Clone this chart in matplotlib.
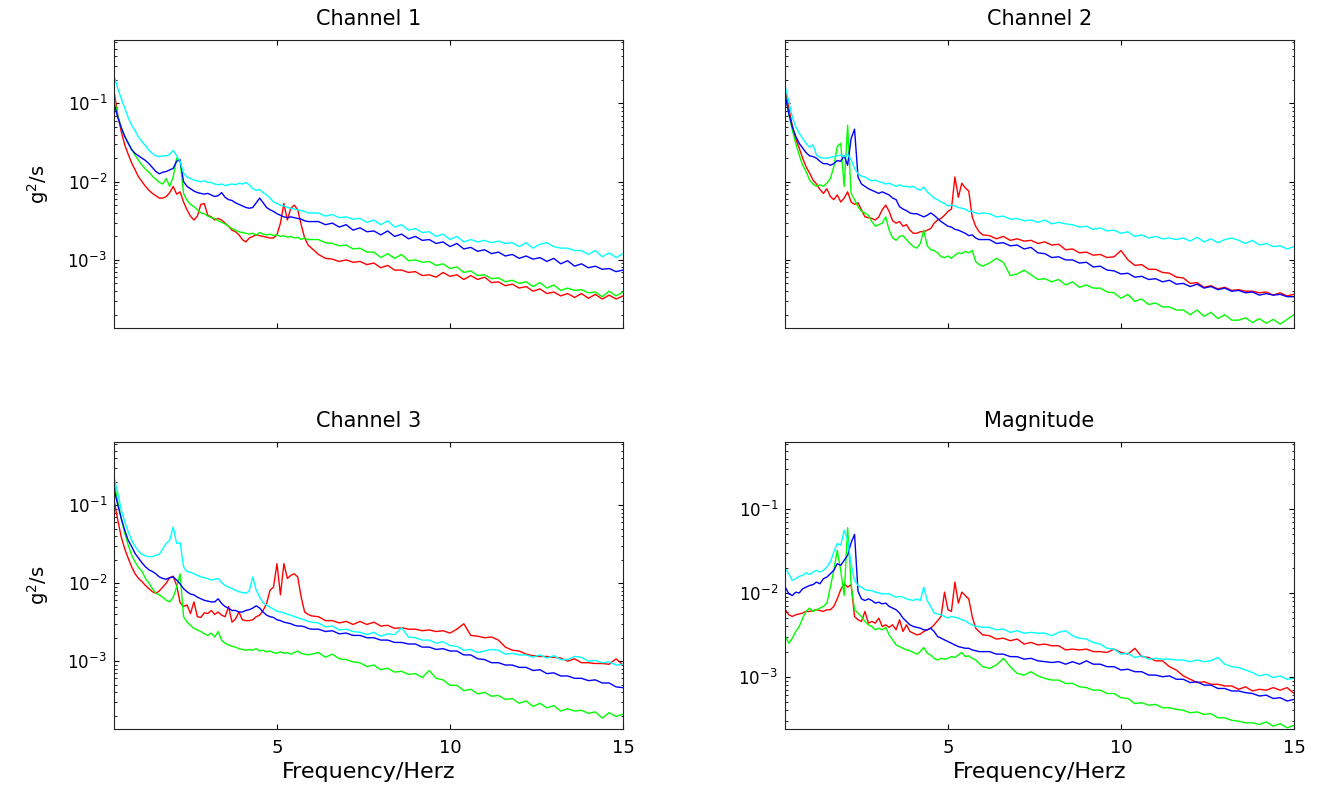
import numpy as np
import matplotlib
matplotlib.use("Agg")
import matplotlib.pyplot as plt
from matplotlib.ticker import LogLocator, NullFormatter, FixedLocator

# Frequency bins (Hz): 0.1 Hz steps up to 6 Hz, 0.2 Hz steps above
freq_hz = np.concatenate([np.round(np.arange(0.3, 6.001, 0.1), 2),
                          np.round(np.arange(6.2, 15.001, 0.2), 2)])

# Power spectral densities, stored as log10(g^2/s)
ch1_red = [-0.87, -1.15, -1.36, -1.53, -1.65, -1.76, -1.85, -1.94, -2.00, -2.06,
           -2.11, -2.15, -2.18, -2.21, -2.21, -2.19, -2.14, -2.06, -2.16, -2.13,
           -2.26, -2.36, -2.44, -2.49, -2.44, -2.29, -2.28, -2.43, -2.45, -2.49,
           -2.47, -2.49, -2.53, -2.57, -2.62, -2.64, -2.68, -2.74, -2.77, -2.72,
           -2.70, -2.68, -2.69, -2.70, -2.71, -2.72, -2.72, -2.68, -2.53, -2.28,
           -2.49, -2.34, -2.30, -2.36, -2.55, -2.72, -2.81, -2.85,
           -2.93, -2.98, -2.99, -3.02, -3.00, -3.03, -3.02, -3.06, -3.04, -3.10,
           -3.07, -3.13, -3.13, -3.16, -3.15, -3.20, -3.19, -3.22, -3.16, -3.21,
           -3.19, -3.25, -3.20, -3.25, -3.22, -3.29, -3.28, -3.33, -3.31, -3.36,
           -3.34, -3.40, -3.37, -3.43, -3.41, -3.46, -3.43, -3.48, -3.43, -3.49,
           -3.44, -3.50, -3.45, -3.50, -3.46]
ch1_green = [-0.95, -1.16, -1.31, -1.42, -1.50, -1.59, -1.66, -1.73, -1.79, -1.84,
             -1.88, -1.93, -1.97, -2.01, -2.03, -1.96, -2.06, -1.94, -1.70, -1.74,
             -2.15, -2.24, -2.29, -2.32, -2.36, -2.40, -2.41, -2.44, -2.46, -2.47,
             -2.50, -2.52, -2.54, -2.57, -2.60, -2.62, -2.64, -2.65, -2.66, -2.67,
             -2.66, -2.68, -2.65, -2.67, -2.68, -2.67, -2.69, -2.68, -2.70, -2.69,
             -2.71, -2.70, -2.72, -2.71, -2.74, -2.72, -2.74, -2.74,
             -2.74, -2.78, -2.79, -2.82, -2.81, -2.86, -2.85, -2.90, -2.90, -2.97,
             -2.92, -2.98, -2.93, -3.01, -3.00, -3.03, -3.02, -3.07, -3.05, -3.11,
             -3.09, -3.16, -3.14, -3.20, -3.19, -3.24, -3.23, -3.28, -3.26, -3.30,
             -3.28, -3.34, -3.29, -3.36, -3.32, -3.39, -3.36, -3.39, -3.38, -3.42,
             -3.41, -3.47, -3.40, -3.46, -3.41]
ch1_blue = [-1.02, -1.18, -1.31, -1.42, -1.51, -1.59, -1.64, -1.67, -1.70, -1.73,
            -1.77, -1.82, -1.87, -1.90, -1.88, -1.87, -1.85, -1.83, -1.74, -1.72,
            -2.00, -2.06, -2.09, -2.12, -2.14, -2.15, -2.16, -2.15, -2.17, -2.19,
            -2.18, -2.14, -2.20, -2.23, -2.24, -2.27, -2.29, -2.31, -2.33, -2.34,
            -2.33, -2.27, -2.21, -2.27, -2.33, -2.36, -2.38, -2.41, -2.43, -2.45,
            -2.46, -2.45, -2.46, -2.47, -2.48, -2.50, -2.51, -2.51,
            -2.51, -2.55, -2.53, -2.58, -2.55, -2.62, -2.59, -2.64, -2.63, -2.68,
            -2.63, -2.70, -2.67, -2.73, -2.70, -2.75, -2.74, -2.79, -2.77, -2.83,
            -2.79, -2.86, -2.84, -2.89, -2.87, -2.92, -2.90, -2.95, -2.93, -2.98,
            -2.95, -2.99, -2.97, -3.02, -2.98, -3.05, -3.01, -3.08, -3.05, -3.10,
            -3.08, -3.12, -3.11, -3.15, -3.13]
ch1_cyan = [-0.66, -0.81, -0.94, -1.06, -1.18, -1.28, -1.35, -1.43, -1.49, -1.54,
            -1.60, -1.64, -1.67, -1.68, -1.67, -1.67, -1.65, -1.60, -1.67, -1.74,
            -1.89, -1.94, -1.96, -1.98, -1.99, -2.00, -1.99, -2.01, -2.01, -2.03,
            -2.04, -2.03, -2.05, -2.04, -2.03, -2.04, -2.02, -2.03, -2.01, -2.04,
            -2.09, -2.11, -2.10, -2.14, -2.17, -2.21, -2.26, -2.28, -2.30, -2.31,
            -2.33, -2.34, -2.35, -2.36, -2.37, -2.38, -2.40, -2.40,
            -2.40, -2.44, -2.42, -2.46, -2.45, -2.48, -2.47, -2.52, -2.49, -2.55,
            -2.50, -2.58, -2.55, -2.62, -2.60, -2.65, -2.64, -2.70, -2.67, -2.74,
            -2.70, -2.77, -2.74, -2.77, -2.75, -2.78, -2.76, -2.79, -2.78, -2.83,
            -2.78, -2.85, -2.80, -2.78, -2.83, -2.85, -2.85, -2.88, -2.88, -2.93,
            -2.88, -2.96, -2.91, -2.97, -2.92]

ch2_red = [-0.83, -1.06, -1.28, -1.45, -1.57, -1.70, -1.81, -1.89, -1.98, -2.03,
           -2.10, -2.15, -2.09, -2.19, -2.23, -2.17, -2.26, -2.21, -2.13, -2.26,
           -2.29, -2.27, -2.36, -2.45, -2.46, -2.47, -2.49, -2.45, -2.36, -2.30,
           -2.38, -2.50, -2.53, -2.51, -2.57, -2.55, -2.62, -2.66, -2.66, -2.64,
           -2.64, -2.62, -2.60, -2.53, -2.49, -2.47, -2.43, -2.38, -2.35, -1.94,
           -2.20, -2.02, -2.08, -2.12, -2.45, -2.57, -2.64, -2.68,
           -2.69, -2.73, -2.70, -2.75, -2.73, -2.76, -2.75, -2.79, -2.77, -2.81,
           -2.80, -2.87, -2.86, -2.91, -2.90, -2.94, -2.93, -2.97, -2.96, -2.88,
           -3.00, -3.07, -3.06, -3.12, -3.12, -3.16, -3.17, -3.22, -3.23, -3.30,
           -3.29, -3.35, -3.33, -3.37, -3.35, -3.39, -3.38, -3.40, -3.40, -3.42,
           -3.41, -3.45, -3.42, -3.46, -3.44]
ch2_green = [-0.89, -1.13, -1.34, -1.51, -1.66, -1.79, -1.87, -1.98, -2.03, -2.06,
             -2.04, -2.06, -2.02, -1.96, -1.81, -1.55, -1.51, -2.06, -1.28, -2.15,
             -2.23, -2.32, -2.38, -2.40, -2.43, -2.51, -2.57, -2.55, -2.53, -2.45,
             -2.62, -2.72, -2.75, -2.70, -2.69, -2.74, -2.79, -2.83, -2.85, -2.79,
             -2.62, -2.82, -2.87, -2.88, -2.91, -2.96, -2.97, -2.95, -2.98, -2.94,
             -2.91, -2.92, -2.89, -2.91, -2.88, -3.02, -3.06, -3.08,
             -3.04, -2.98, -3.03, -3.20, -3.18, -3.13, -3.19, -3.25, -3.24, -3.28,
             -3.25, -3.32, -3.28, -3.35, -3.32, -3.36, -3.36, -3.41, -3.42, -3.49,
             -3.44, -3.53, -3.50, -3.57, -3.55, -3.60, -3.60, -3.64, -3.64, -3.70,
             -3.64, -3.72, -3.67, -3.75, -3.70, -3.77, -3.77, -3.74, -3.80, -3.75,
             -3.81, -3.76, -3.82, -3.76, -3.70]
ch2_blue = [-0.91, -1.13, -1.30, -1.42, -1.51, -1.57, -1.63, -1.67, -1.68, -1.70,
            -1.74, -1.77, -1.77, -1.79, -1.77, -1.73, -1.74, -1.67, -1.79, -1.45,
            -1.33, -1.94, -2.03, -2.06, -2.09, -2.11, -2.13, -2.15, -2.13, -2.15,
            -2.17, -2.21, -2.23, -2.32, -2.35, -2.37, -2.40, -2.41, -2.41, -2.43,
            -2.45, -2.43, -2.40, -2.43, -2.47, -2.51, -2.54, -2.57, -2.58, -2.61,
            -2.62, -2.64, -2.66, -2.69, -2.68, -2.72, -2.74, -2.74,
            -2.74, -2.79, -2.78, -2.82, -2.81, -2.86, -2.84, -2.91, -2.92, -2.97,
            -2.96, -3.00, -3.00, -3.04, -3.03, -3.09, -3.08, -3.13, -3.14, -3.18,
            -3.17, -3.22, -3.21, -3.25, -3.24, -3.28, -3.26, -3.31, -3.30, -3.34,
            -3.31, -3.36, -3.34, -3.38, -3.36, -3.40, -3.39, -3.42, -3.41, -3.45,
            -3.43, -3.45, -3.44, -3.47, -3.47]
ch2_cyan = [-0.79, -0.98, -1.17, -1.30, -1.38, -1.45, -1.51, -1.56, -1.53, -1.66,
            -1.69, -1.70, -1.70, -1.69, -1.68, -1.67, -1.66, -1.68, -1.65, -1.72,
            -1.83, -1.90, -1.93, -1.94, -1.97, -1.99, -1.98, -2.00, -2.01, -2.03,
            -2.02, -2.04, -2.06, -2.04, -2.06, -2.06, -2.07, -2.06, -2.09, -2.11,
            -2.07, -2.13, -2.17, -2.21, -2.23, -2.26, -2.28, -2.31, -2.30, -2.31,
            -2.33, -2.34, -2.35, -2.38, -2.38, -2.40, -2.41, -2.40,
            -2.41, -2.45, -2.44, -2.48, -2.47, -2.50, -2.49, -2.52, -2.49, -2.54,
            -2.52, -2.54, -2.55, -2.58, -2.57, -2.61, -2.59, -2.63, -2.62, -2.66,
            -2.64, -2.70, -2.68, -2.72, -2.70, -2.73, -2.72, -2.74, -2.72, -2.76,
            -2.71, -2.77, -2.73, -2.78, -2.74, -2.72, -2.75, -2.79, -2.75, -2.81,
            -2.79, -2.83, -2.82, -2.86, -2.83]

ch3_red = [-0.96, -1.19, -1.41, -1.56, -1.68, -1.79, -1.88, -1.94, -1.98, -2.03,
           -2.07, -2.11, -2.13, -2.10, -2.05, -2.00, -1.93, -1.91, -2.03, -2.25,
           -2.30, -2.28, -2.39, -2.24, -2.43, -2.44, -2.38, -2.39, -2.35, -2.40,
           -2.37, -2.41, -2.43, -2.30, -2.50, -2.46, -2.37, -2.47, -2.48, -2.48,
           -2.47, -2.43, -2.41, -2.35, -2.26, -2.09, -2.05, -1.75, -2.15, -1.75,
           -1.94, -1.90, -1.88, -1.92, -2.18, -2.37, -2.40, -2.42,
           -2.43, -2.48, -2.48, -2.51, -2.49, -2.53, -2.49, -2.53, -2.50, -2.55,
           -2.54, -2.58, -2.57, -2.59, -2.59, -2.61, -2.60, -2.62, -2.61, -2.64,
           -2.59, -2.52, -2.67, -2.68, -2.70, -2.69, -2.73, -2.82, -2.86, -2.87,
           -2.91, -2.93, -2.94, -2.94, -2.95, -2.96, -3.00, -2.97, -3.02, -3.02,
           -3.03, -3.03, -3.04, -2.97, -3.05]
ch3_green = [-0.72, -0.96, -1.17, -1.36, -1.51, -1.64, -1.73, -1.80, -1.85, -1.94,
             -2.00, -2.07, -2.13, -2.15, -2.18, -2.22, -2.24, -2.18, -2.05, -1.88,
             -2.43, -2.50, -2.54, -2.58, -2.60, -2.62, -2.65, -2.67, -2.64, -2.69,
             -2.62, -2.73, -2.77, -2.79, -2.81, -2.82, -2.84, -2.85, -2.86, -2.85,
             -2.86, -2.84, -2.87, -2.86, -2.88, -2.87, -2.89, -2.90, -2.88, -2.90,
             -2.89, -2.91, -2.89, -2.87, -2.90, -2.91, -2.92, -2.91,
             -2.89, -2.95, -2.91, -2.97, -2.98, -3.01, -3.02, -3.07, -3.05, -3.11,
             -3.09, -3.14, -3.13, -3.17, -3.16, -3.21, -3.12, -3.22, -3.24, -3.31,
             -3.31, -3.38, -3.36, -3.42, -3.40, -3.45, -3.44, -3.49, -3.48, -3.54,
             -3.51, -3.58, -3.54, -3.60, -3.57, -3.64, -3.61, -3.64, -3.63, -3.67,
             -3.65, -3.73, -3.66, -3.71, -3.68]
ch3_blue = [-0.81, -1.00, -1.17, -1.32, -1.45, -1.53, -1.62, -1.68, -1.74, -1.79,
            -1.83, -1.85, -1.88, -1.92, -1.94, -1.95, -1.93, -1.92, -1.96, -2.01,
            -2.07, -2.11, -2.14, -2.15, -2.18, -2.20, -2.22, -2.23, -2.24, -2.24,
            -2.20, -2.26, -2.30, -2.32, -2.35, -2.35, -2.37, -2.37, -2.35, -2.34,
            -2.32, -2.29, -2.32, -2.37, -2.41, -2.43, -2.44, -2.47, -2.48, -2.50,
            -2.51, -2.52, -2.54, -2.55, -2.55, -2.56, -2.58, -2.59,
            -2.59, -2.62, -2.61, -2.65, -2.64, -2.67, -2.67, -2.70, -2.70, -2.73,
            -2.73, -2.76, -2.76, -2.78, -2.78, -2.82, -2.82, -2.85, -2.84, -2.87,
            -2.87, -2.92, -2.92, -2.97, -2.98, -3.02, -3.02, -3.05, -3.05, -3.08,
            -3.08, -3.12, -3.11, -3.16, -3.15, -3.19, -3.19, -3.22, -3.22, -3.25,
            -3.24, -3.28, -3.28, -3.33, -3.34]
ch3_cyan = [-0.66, -0.85, -1.06, -1.21, -1.34, -1.45, -1.53, -1.59, -1.63, -1.65,
            -1.66, -1.66, -1.64, -1.63, -1.56, -1.49, -1.45, -1.28, -1.49, -1.48,
            -1.79, -1.85, -1.86, -1.88, -1.90, -1.92, -1.93, -1.94, -1.96, -1.95,
            -1.94, -1.99, -2.03, -2.05, -2.07, -2.09, -2.11, -2.12, -2.13, -2.10,
            -1.92, -2.09, -2.18, -2.25, -2.28, -2.31, -2.33, -2.36, -2.37, -2.38,
            -2.40, -2.41, -2.43, -2.44, -2.46, -2.47, -2.49, -2.50,
            -2.51, -2.56, -2.55, -2.60, -2.59, -2.62, -2.63, -2.66, -2.63, -2.68,
            -2.65, -2.66, -2.57, -2.69, -2.70, -2.73, -2.73, -2.77, -2.75, -2.80,
            -2.81, -2.86, -2.85, -2.89, -2.87, -2.85, -2.86, -2.91, -2.90, -2.92,
            -2.92, -2.95, -2.92, -2.96, -2.93, -2.98, -2.98, -2.94, -2.95, -3.00,
            -2.99, -3.02, -3.01, -3.05, -3.04]

mag_red = [-2.20, -2.26, -2.28, -2.26, -2.25, -2.24, -2.22, -2.22, -2.21, -2.20,
           -2.21, -2.22, -2.20, -2.20, -2.16, -2.07, -1.96, -1.89, -1.93, -1.90,
           -2.28, -2.32, -2.34, -2.22, -2.36, -2.34, -2.36, -2.30, -2.40, -2.38,
           -2.41, -2.38, -2.44, -2.32, -2.46, -2.38, -2.46, -2.48, -2.50, -2.49,
           -2.46, -2.44, -2.42, -2.38, -2.33, -2.28, -1.99, -2.20, -2.22, -1.87,
           -2.12, -1.99, -2.03, -2.07, -2.28, -2.42, -2.46, -2.50,
           -2.51, -2.55, -2.54, -2.57, -2.55, -2.61, -2.59, -2.62, -2.61, -2.63,
           -2.63, -2.68, -2.67, -2.68, -2.67, -2.70, -2.70, -2.71, -2.67, -2.71,
           -2.73, -2.66, -2.76, -2.77, -2.81, -2.81, -2.88, -2.92, -2.99, -3.03,
           -3.07, -3.06, -3.09, -3.09, -3.11, -3.11, -3.15, -3.12, -3.17, -3.15,
           -3.16, -3.13, -3.16, -3.13, -3.20]
mag_green = [-2.52, -2.60, -2.54, -2.46, -2.40, -2.30, -2.22, -2.18, -2.22, -2.20,
             -2.18, -2.16, -2.12, -1.93, -1.73, -1.49, -1.73, -2.03, -1.22, -1.90,
             -2.20, -2.24, -2.28, -2.34, -2.38, -2.40, -2.44, -2.42, -2.44, -2.41,
             -2.50, -2.56, -2.62, -2.64, -2.66, -2.68, -2.69, -2.71, -2.73, -2.70,
             -2.65, -2.72, -2.74, -2.78, -2.80, -2.78, -2.79, -2.78, -2.76, -2.77,
             -2.74, -2.71, -2.76, -2.75, -2.78, -2.80, -2.84, -2.88,
             -2.90, -2.86, -2.78, -2.88, -2.96, -2.98, -2.94, -2.99, -3.02, -3.04,
             -3.04, -3.08, -3.08, -3.12, -3.13, -3.16, -3.16, -3.20, -3.20, -3.25,
             -3.26, -3.32, -3.31, -3.34, -3.33, -3.37, -3.37, -3.39, -3.40, -3.43,
             -3.42, -3.45, -3.44, -3.49, -3.49, -3.52, -3.53, -3.55, -3.55, -3.57,
             -3.54, -3.59, -3.56, -3.61, -3.58]
mag_blue = [-1.93, -2.01, -2.03, -1.99, -2.00, -1.95, -1.93, -1.91, -1.90, -1.87,
            -1.89, -1.83, -1.81, -1.77, -1.73, -1.65, -1.67, -1.61, -1.55, -1.40,
            -1.30, -1.98, -2.07, -2.09, -2.07, -2.09, -2.12, -2.11, -2.13, -2.12,
            -2.16, -2.18, -2.20, -2.24, -2.30, -2.34, -2.38, -2.40, -2.41, -2.42,
            -2.44, -2.44, -2.42, -2.46, -2.52, -2.54, -2.56, -2.58, -2.60, -2.62,
            -2.64, -2.65, -2.66, -2.66, -2.68, -2.69, -2.70, -2.70,
            -2.70, -2.73, -2.73, -2.76, -2.76, -2.79, -2.78, -2.81, -2.82, -2.83,
            -2.82, -2.85, -2.82, -2.85, -2.81, -2.85, -2.85, -2.88, -2.88, -2.92,
            -2.91, -2.94, -2.94, -2.98, -2.98, -3.00, -2.99, -3.03, -3.03, -3.07,
            -3.06, -3.10, -3.10, -3.14, -3.14, -3.17, -3.17, -3.19, -3.20, -3.23,
            -3.22, -3.26, -3.25, -3.29, -3.27]
mag_cyan = [-1.71, -1.77, -1.85, -1.83, -1.80, -1.79, -1.76, -1.78, -1.75, -1.73,
            -1.75, -1.73, -1.69, -1.63, -1.51, -1.41, -1.43, -1.25, -1.37, -1.65,
            -1.85, -1.91, -1.93, -1.96, -1.97, -1.97, -1.99, -2.00, -2.01, -2.01,
            -2.01, -2.03, -2.05, -2.04, -2.05, -2.07, -2.08, -2.09, -2.07, -2.09,
            -1.93, -2.09, -2.16, -2.24, -2.25, -2.26, -2.28, -2.30, -2.28, -2.29,
            -2.30, -2.32, -2.33, -2.36, -2.38, -2.40, -2.40, -2.41,
            -2.41, -2.44, -2.43, -2.47, -2.45, -2.48, -2.47, -2.48, -2.48, -2.51,
            -2.47, -2.45, -2.51, -2.54, -2.55, -2.59, -2.61, -2.66, -2.67, -2.73,
            -2.72, -2.77, -2.75, -2.79, -2.78, -2.79, -2.79, -2.80, -2.80, -2.82,
            -2.80, -2.82, -2.81, -2.77, -2.85, -2.88, -2.89, -2.92, -2.95, -2.99,
            -2.97, -3.01, -2.99, -3.03, -3.02]

panel_titles = ["Channel 1", "Channel 2", "Channel 3", "Magnitude"]
line_colors = ["#ff0000", "#00ff00", "#0000ff", "#00ffff"]
x_ticks = [5, 10, 15]

panels = [
    (panel_titles[0], [ch1_red, ch1_green, ch1_blue, ch1_cyan]),
    (panel_titles[1], [ch2_red, ch2_green, ch2_blue, ch2_cyan]),
    (panel_titles[2], [ch3_red, ch3_green, ch3_blue, ch3_cyan]),
    (panel_titles[3], [mag_red, mag_green, mag_blue, mag_cyan]),
]

W, H = 1320, 786
fig = plt.figure(figsize=(W / 100, H / 100), dpi=100)
fig.patch.set_facecolor("white")

# axes boxes in pixels: left, right, top, bottom
boxes = [(114, 623, 40, 328), (785, 1294, 40, 328),
         (114, 623, 442, 729), (785, 1294, 442, 729)]
ylims = [(10 ** -3.87, 10 ** -0.19)] * 3 + [(10 ** -3.624, 10 ** -0.197)]

for i, ((title, series), (l, r, t, b)) in enumerate(zip(panels, boxes)):
    ax = fig.add_axes([l / W, 1 - b / H, (r - l) / W, (b - t) / H])
    for vals, col in zip(series, line_colors):
        ax.plot(freq_hz, 10.0 ** np.asarray(vals), color=col, lw=1.0)
    ax.set_yscale("log")
    ax.set_xlim(0.29, 15)
    ax.set_ylim(*ylims[i])
    ax.xaxis.set_major_locator(FixedLocator(x_ticks))
    ax.yaxis.set_major_locator(LogLocator(base=10, numticks=10))
    ax.yaxis.set_minor_locator(LogLocator(base=10, subs=np.arange(2, 10), numticks=10))
    ax.yaxis.set_minor_formatter(NullFormatter())
    ax.tick_params(which="both", direction="in", top=True, right=True,
                   colors="black")
    ax.tick_params(which="major", length=3.6, width=0.8)
    ax.tick_params(which="minor", length=1.8, width=0.6)
    ax.tick_params(axis="y", which="major", labelsize=12, pad=5)
    ax.tick_params(axis="x", which="major", labelsize=13, pad=7)
    for sp in ax.spines.values():
        sp.set_linewidth(0.8)
        sp.set_color("#222222")
    ax.set_title(title, fontsize=15, pad=11)
    if i < 2:
        ax.tick_params(axis="x", labelbottom=False)
    else:
        ax.set_xlabel("Frequency/Herz", fontsize=16, labelpad=4)
    if i == 1:
        ax.tick_params(axis="y", labelleft=False)
    if i in (0, 2):
        ax.set_ylabel(r"g$^2$/s", fontsize=14, labelpad=12)

fig.savefig("out.png", dpi=100, facecolor="white")
